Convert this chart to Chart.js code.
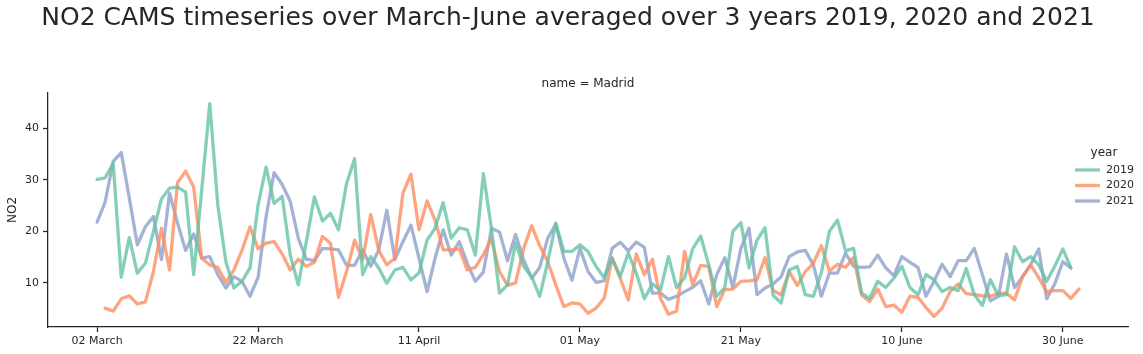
<!DOCTYPE html>
<html><head><meta charset="utf-8">
<script src="https://cdn.jsdelivr.net/npm/chart.js@4"></script>
<style>html,body{margin:0;padding:0;background:#fff}#c{display:block}</style>
</head><body>
<canvas id="c" width="1143" height="354"></canvas>
<script>
const titleText = "NO2 CAMS timeseries over March-June averaged over 3 years 2019, 2020 and 2021";
const facetText = "name = Madrid";
const yLabel = "NO2";
const legendTitle = "year";
const years = ["2019", "2020", "2021"];
const tickDays = [0, 20, 40, 60, 80, 100, 120];
const tickLabels = ["02 March", "22 March", "11 April", "01 May", "21 May", "10 June", "30 June"];
const yTicks = [10, 20, 30, 40];
const start2019 = 0, start2020 = 1, start2021 = 0;
const no2_2019 = [30.1,30.4,33.2,11.1,18.8,11.9,13.8,20.0,26.3,28.4,28.6,27.6,11.6,28.0,44.8,25.1,14.1,9.0,10.3,12.9,
25.1,32.5,25.4,26.8,15.4,9.6,18.0,26.7,22.0,23.5,20.3,29.3,34.1,11.6,15.1,12.9,9.9,12.5,13.0,10.6,
11.9,18.3,20.6,25.6,18.7,20.7,20.3,15.4,31.2,20.6,8.0,9.6,17.7,13.2,11.2,7.4,14.1,21.6,16.1,16.1,
17.4,16.1,13.2,11.0,14.8,11.2,15.8,11.9,6.9,9.8,8.6,15.1,9.1,11.0,16.6,19.1,13.5,7.4,9.1,20.0,
21.7,12.9,18.3,20.7,7.6,6.1,12.5,13.2,7.7,7.4,12.0,20.0,22.2,16.2,16.7,8.0,7.0,10.3,9.1,10.9,
13.2,9.1,7.7,11.6,10.6,8.3,9.1,8.5,12.8,7.7,5.6,10.6,7.5,7.7,17.0,14.1,15.1,13.5,10.3,13.2,
16.6,12.9];
const no2_2020 = [5.1,4.5,6.9,7.5,5.9,6.3,12.2,20.6,12.5,29.5,31.7,28.6,14.8,13.5,13.0,10.1,12.5,16.3,20.9,16.6,
17.7,18.0,15.6,12.5,14.6,13.2,14.0,19.0,17.7,7.2,12.2,18.3,14.5,23.3,16.3,13.5,14.8,27.4,31.1,20.3,
25.9,22.2,16.4,16.4,16.6,12.5,13.0,15.5,18.5,12.2,9.5,10.0,16.7,21.1,17.2,14.1,9.6,5.4,6.1,5.9,
4.1,5.1,7.0,14.8,10.9,6.7,15.6,11.6,14.6,7.0,3.9,4.5,16.1,9.6,13.4,13.2,5.4,8.7,8.8,10.3,
10.4,10.6,14.9,8.5,7.7,12.2,9.5,12.2,13.8,17.2,12.3,13.6,13.0,14.9,7.6,6.4,8.8,5.4,5.7,4.3,
7.4,7.2,5.2,3.5,5.1,8.3,9.8,7.9,7.7,7.5,7.4,7.9,8.0,6.7,11.2,13.5,11.0,8.3,8.5,8.5,
7.0,8.8];
const no2_2021 = [21.8,25.7,33.6,35.3,26.5,17.4,20.9,22.9,14.5,27.4,21.6,16.3,19.5,14.8,15.1,11.6,9.0,11.2,10.3,7.4,
11.0,22.9,31.4,29.1,25.8,18.7,14.6,14.3,16.7,16.6,16.4,13.4,13.4,16.4,13.2,16.4,24.1,14.5,18.0,21.2,
14.8,8.3,14.8,20.3,15.4,18.0,13.8,10.3,12.1,20.6,19.9,14.3,19.4,14.5,10.9,13.0,18.7,21.4,14.8,10.5,
16.7,12.2,10.1,10.4,16.7,17.9,16.2,17.9,16.9,8.0,8.0,6.8,7.4,8.3,9.1,10.4,5.9,11.6,14.9,9.1,
16.7,20.6,7.7,9.0,9.8,11.2,15.1,16.0,16.3,13.5,7.4,11.9,11.9,15.8,13.2,13.0,13.1,15.4,12.9,11.4,
15.1,14.0,13.0,7.4,10.3,13.6,11.2,14.3,14.3,16.7,11.6,6.5,7.4,15.6,9.1,11.2,13.5,16.6,6.9,9.8,
14.1,12.9];
const colors = ["rgba(102,194,165,0.8)", "rgba(252,141,98,0.8)", "rgba(141,160,203,0.8)"];

const toPts = (arr, s) => arr.map((v, i) => ({x: s + i, y: v}));
const seriesList = [toPts(no2_2019, start2019), toPts(no2_2020, start2020), toPts(no2_2021, start2021)];
const INK = "#262626";
const FONT = "'DejaVu Sans', sans-serif";

const textPlugin = {
  id: 'texts',
  afterDraw(chart) {
    const ctx = chart.ctx, ca = chart.chartArea;
    ctx.save();
    ctx.fillStyle = INK;
    ctx.textAlign = 'center'; ctx.textBaseline = 'middle';
    ctx.font = "25px " + FONT;
    ctx.fillText(titleText, 568, 18);
    ctx.font = "12px " + FONT;
    ctx.fillText(facetText, (ca.left + ca.right) / 2, 84);
    ctx.save();
    ctx.translate(13, (ca.top + ca.bottom) / 2);
    ctx.rotate(-Math.PI / 2);
    ctx.font = "12px " + FONT;
    ctx.fillText(yLabel, 0, 0);
    ctx.restore();
    // legend
    ctx.font = "12px " + FONT;
    ctx.fillText(legendTitle, 1104, 153);
    ctx.font = "11px " + FONT;
    ctx.textAlign = 'left';
    chart.data.datasets.forEach((ds, i) => {
      const y = 170 + i * 15.5;
      ctx.strokeStyle = ds.borderColor; ctx.lineWidth = 3.3; ctx.lineCap = 'butt';
      ctx.beginPath(); ctx.moveTo(1075, y); ctx.lineTo(1100, y); ctx.stroke();
      ctx.fillText(ds.label, 1106, y);
    });
    ctx.restore();
  }
};

new Chart(document.getElementById('c'), {
  type: 'line',
  data: {
    datasets: years.map((yr, i) => ({
      label: yr, data: seriesList[i], borderColor: colors[i], backgroundColor: colors[i],
      borderWidth: 3.3, pointRadius: 0, tension: 0, fill: false, borderJoinStyle: 'round', borderCapStyle: 'round'
    }))
  },
  options: {
    responsive: false, animation: false, devicePixelRatio: 1,
    layout: {padding: {top: 93, right: 15, left: 0, bottom: 0}},
    plugins: {legend: {display: false}, tooltip: {enabled: false}, title: {display: false}},
    scales: {
      x: {
        type: 'linear', min: -6.1, max: 128.1,
        afterBuildTicks: s => { s.ticks = tickDays.map(v => ({value: v})); },
        afterFit: s => { s.height = 27; },
        ticks: {autoSkip: false, maxRotation: 0, padding: 3, color: INK, font: {family: FONT, size: 11},
          callback: v => { const k = tickDays.indexOf(v); return k >= 0 ? tickLabels[k] : ''; }},
        grid: {drawOnChartArea: false, drawTicks: true, tickLength: 5, color: INK, tickWidth: 1.25},
        border: {display: true, color: INK, width: 1.25}
      },
      y: {
        type: 'linear', min: 1.43, max: 46.87,
        afterBuildTicks: s => { s.ticks = yTicks.map(v => ({value: v})); },
        afterFit: s => { s.width = 48; },
        ticks: {padding: 4, color: INK, font: {family: FONT, size: 11}},
        grid: {drawOnChartArea: false, drawTicks: true, tickLength: 5, color: INK, tickWidth: 1.25},
        border: {display: true, color: INK, width: 1.25}
      }
    }
  },
  plugins: [textPlugin]
});
</script>
</body></html>
